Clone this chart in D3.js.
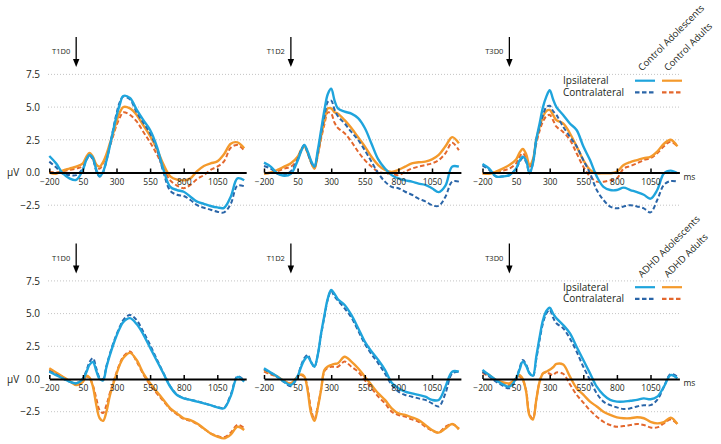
<!DOCTYPE html>
<html><head><meta charset="utf-8">
<script src="https://cdn.jsdelivr.net/npm/d3@7"></script>
<style>
body{margin:0;background:#fff}
svg{display:block}
text{font-family:"Open Sans",sans-serif;fill:#231f20}
</style>
</head><body>
<svg id="chart" width="721" height="444"></svg>
<script>
// ---------- DATA ----------
const times = [-200,-150,-100,-50,0,50,75,100,125,150,175,200,225,250,275,300,325,350,400,450,500,550,600,650,700,750,800,850,900,950,1000,1050,1100,1150,1200,1250];
const panelTitles = ["T1D0","T1D2","T3D0"];
const xTickValues = [-200,50,300,550,800,1050];
const yTickValues = [-2.5,0,2.5,5,7.5];
const gridValues = [-2.5,2.5,5,7.5];
const legendRows = ["Ipsilateral","Contralateral"];
const controlGroups = ["Control Adolescents","Control Adults"];
const adhdGroups = ["ADHD Adolescents","ADHD Adults"];

// Control Adolescents (blue) – one array per panel
const ctrlAdolIpsi = [
 [1.26,0.7,-0.06,-0.45,-0.57,0.2,0.95,1.34,1.1,0.2,-0.3,0.06,0.9,2.0,3.2,4.3,5.2,5.85,5.7,4.8,4.0,3.25,2.0,0.2,-1.1,-1.34,-1.47,-1.85,-2.23,-2.4,-2.56,-2.67,-2.7,-1.85,-0.45,-0.6],
 [0.75,0.45,-0.06,-0.25,-0.1,0.9,1.6,2.1,1.6,0.9,0.45,1.7,3.25,4.8,6.0,6.4,5.5,4.9,4.65,4.5,4.15,3.4,2.2,1.0,0.3,-0.2,-0.45,-0.6,-0.7,-0.85,-0.95,-1.2,-1.5,-1.0,0.45,0.45],
 [0.65,0.3,-0.3,-0.3,-0.2,0.3,0.9,1.2,0.9,-0.06,0.7,2.5,3.75,5.0,5.8,6.3,5.6,5.0,4.4,3.75,3.25,2.0,0.95,-0.3,-1.1,-1.34,-1.34,-1.16,-1.34,-1.5,-1.7,-2.0,-1.34,-0.06,0.14,-0.06]
];
const ctrlAdolContra = [
 [0.83,0.4,-0.1,-0.2,-0.2,0.3,0.95,1.3,1.0,0.1,-0.3,0.0,0.9,2.0,3.3,4.5,5.4,5.8,5.6,4.6,3.8,3.0,1.8,0.0,-1.4,-1.7,-1.8,-2.1,-2.5,-2.7,-2.85,-3.0,-3.05,-2.4,-1.0,-1.05],
 [0.5,0.3,-0.1,-0.2,0.1,1.0,1.7,2.1,1.5,0.8,0.45,1.5,3.0,4.3,5.4,5.5,4.8,4.3,3.75,3.1,2.5,1.7,0.83,-0.06,-0.7,-1.1,-1.2,-1.47,-1.7,-2.0,-2.2,-2.5,-2.55,-1.85,-0.7,-0.7],
 [0.55,0.2,-0.3,-0.3,-0.2,0.3,0.8,1.1,0.8,-0.06,0.7,2.5,3.5,4.4,5.0,5.1,4.7,4.4,3.5,2.74,2.0,0.95,-0.06,-1.34,-2.1,-2.6,-2.74,-2.6,-2.5,-2.6,-2.74,-3.05,-2.1,-0.95,-0.65,-0.7]
];
// Control Adults (orange)
const ctrlAdultIpsi = [
 [0.0,-0.1,0.15,0.3,0.45,0.7,1.2,1.5,1.2,0.6,0.45,0.8,1.4,2.2,3.0,3.9,4.6,5.0,4.9,4.4,3.6,2.8,1.8,0.6,-0.3,-0.55,-0.6,-0.45,0.1,0.5,0.7,0.85,1.4,2.2,2.3,1.85],
 [-0.1,0.0,0.2,0.45,0.7,1.2,1.7,2.0,1.5,0.8,0.3,1.4,2.8,4.0,4.9,4.9,4.6,4.5,4.0,3.4,2.7,2.0,1.2,0.57,0.2,0.05,0.2,0.45,0.7,0.78,0.83,1.0,1.34,2.0,2.7,2.23],
 [-0.06,-0.1,0.06,0.3,0.57,1.0,1.5,1.8,1.4,0.57,1.0,2.5,3.5,4.27,4.7,4.78,4.4,4.0,3.75,3.0,2.0,0.95,0.2,-0.06,-0.06,-0.06,0.06,0.57,0.8,0.95,1.1,1.2,1.6,2.2,2.5,2.0]
];
const ctrlAdultContra = [
 [0.05,0.0,0.1,0.2,0.3,0.5,1.0,1.3,1.0,0.4,0.3,0.7,1.3,2.0,2.8,3.6,4.2,4.6,4.4,3.9,3.1,2.3,1.4,0.3,-0.6,-1.0,-1.2,-0.95,-0.5,-0.2,0.2,0.45,0.85,1.9,2.1,1.7],
 [-0.05,0.0,0.1,0.3,0.45,1.0,1.6,2.0,1.5,0.8,0.3,1.3,2.6,3.7,4.6,4.5,3.8,3.4,3.0,2.36,1.6,0.95,0.45,0.06,-0.06,-0.1,-0.2,0.06,0.3,0.45,0.57,0.7,0.95,1.47,2.28,1.7],
 [-0.06,-0.05,0.05,0.15,0.3,0.7,1.2,1.47,1.1,0.45,0.9,2.2,3.2,3.9,4.3,4.4,4.0,3.5,3.1,2.5,1.47,0.45,-0.3,-0.7,-0.7,-0.6,-0.45,0.3,0.5,0.7,0.95,1.1,1.47,2.0,2.36,2.0]
];
// ADHD Adolescents (blue)
const adhdAdolIpsi = [
 [0.56,0.3,0.05,-0.2,-0.33,0.0,0.5,1.1,1.3,0.6,0.0,-0.1,0.9,1.8,2.6,3.3,3.9,4.35,4.65,4.2,3.4,2.4,1.4,0.4,-0.59,-1.22,-1.48,-1.6,-1.73,-1.86,-2.0,-2.17,-2.24,-1.3,0.15,-0.2],
 [0.82,0.5,0.18,-0.2,-0.46,0.2,0.9,1.45,1.7,1.3,0.94,1.84,3.5,4.9,6.17,6.8,6.5,6.1,5.66,4.9,3.9,2.86,2.1,1.45,0.7,-0.28,-0.7,-0.97,-1.1,-1.22,-1.35,-1.6,-1.6,-0.59,0.56,0.56],
 [0.7,0.3,-0.08,-0.4,-0.59,0.05,0.7,1.33,1.0,0.43,0.25,1.7,3.2,4.5,5.2,5.45,5.0,4.64,4.13,3.5,2.47,1.45,0.43,-0.59,-1.22,-1.6,-1.73,-1.73,-1.66,-1.6,-1.48,-1.55,-1.35,-0.59,0.3,0.05]
];
const adhdAdolContra = [
 [0.6,0.35,0.05,-0.2,-0.33,0.05,0.6,1.3,1.6,0.8,0.1,0.0,1.0,1.9,2.7,3.4,4.0,4.5,4.9,4.5,3.6,2.6,1.5,0.45,-0.55,-1.2,-1.45,-1.6,-1.7,-1.85,-2.0,-2.15,-2.2,-1.2,0.2,-0.1],
 [0.75,0.45,0.15,-0.25,-0.55,0.2,1.0,1.6,1.85,1.3,0.94,1.84,3.4,4.8,6.1,6.75,6.3,6.0,5.4,4.7,3.7,2.7,1.9,1.2,0.43,-0.46,-0.97,-1.22,-1.35,-1.48,-1.6,-1.86,-2.1,-1.1,0.43,0.56],
 [0.56,0.2,-0.2,-0.5,-0.71,0.0,0.8,1.45,1.1,0.45,0.2,1.5,3.0,4.26,5.0,5.3,4.7,4.26,3.88,3.1,2.1,0.94,-0.08,-1.1,-1.73,-2.0,-2.17,-2.3,-2.24,-2.1,-2.0,-2.0,-1.6,-0.59,0.38,0.18]
];
// ADHD Adults (orange)
const adhdAdultIpsi = [
 [0.82,0.5,0.18,-0.15,-0.46,-0.2,0.25,0.1,-0.6,-2.0,-3.0,-3.2,-2.5,-1.3,-0.4,0.4,1.1,1.6,2.0,1.45,0.43,-0.33,-0.97,-1.6,-2.24,-2.63,-3.0,-3.14,-3.4,-3.78,-4.16,-4.4,-4.54,-4.25,-3.65,-3.9],
 [0.7,0.45,0.18,-0.15,-0.33,0.18,0.35,0.2,-0.9,-2.6,-3.2,-2.2,-0.8,0.7,0.95,1.07,1.15,1.2,1.7,1.33,0.82,0.18,-0.46,-1.1,-1.6,-2.24,-2.63,-2.75,-2.93,-3.14,-3.52,-3.9,-4.1,-3.78,-3.44,-3.85],
 [0.56,0.3,-0.08,-0.25,-0.33,0.05,0.3,0.0,-1.0,-2.8,-3.1,-1.6,-0.2,0.43,0.56,0.7,0.9,1.15,1.1,0.2,-0.7,-1.2,-1.73,-2.1,-2.5,-2.75,-2.93,-3.0,-3.0,-2.93,-3.0,-3.27,-3.39,-3.3,-2.95,-3.44]
];
const adhdAdultContra = [
 [0.7,0.45,0.15,-0.15,-0.4,-0.2,0.2,0.05,-0.5,-1.5,-2.4,-2.6,-2.0,-1.1,-0.3,0.5,1.2,1.7,2.1,1.33,0.35,-0.45,-1.1,-1.7,-2.3,-2.7,-3.05,-3.2,-3.45,-3.8,-4.15,-4.35,-4.45,-4.1,-3.5,-3.75],
 [0.56,0.35,0.15,-0.15,-0.33,0.2,0.3,0.15,-0.7,-2.3,-3.1,-2.1,-0.8,0.6,0.85,0.94,0.94,0.94,1.33,0.94,0.56,-0.08,-0.7,-1.35,-1.86,-2.5,-2.75,-2.88,-3.09,-3.27,-3.65,-3.95,-4.1,-3.65,-3.44,-3.78],
 [0.45,0.2,-0.1,-0.3,-0.46,0.0,0.2,-0.1,-0.9,-2.7,-3.0,-1.6,-0.2,0.43,0.5,0.4,0.3,0.5,0.4,-0.4,-1.2,-1.8,-2.4,-2.88,-3.27,-3.52,-3.65,-3.6,-3.52,-3.44,-3.52,-3.7,-3.7,-3.39,-3.1,-3.44]
];

// ---------- LAYOUT / STYLE ----------
const svg = d3.select("#chart");
const panelLeft = [49.3, 264, 482.5];
const panelWidth = 196.9;
const pxPerUnit = 13.08;
const rowZero = [172.5, 379];
const gridX = [48, 680];

const styles = {
  adolIpsi:   {stroke:"#1fa4dc", width:2.4, dash:null},
  adolContra: {stroke:"#2a65a8", width:2.0, dash:"4.5,2.5"},
  adultIpsi:  {stroke:"#f49a2c", width:2.4, dash:null},
  adultContra:{stroke:"#e3672d", width:2.0, dash:"4.5,2.5"}
};

const rows = [
  {zero: rowZero[0], groups: controlGroups,
   series: [["adultContra", ctrlAdultContra],["adultIpsi", ctrlAdultIpsi],["adolContra", ctrlAdolContra],["adolIpsi", ctrlAdolIpsi]]},
  {zero: rowZero[1], groups: adhdGroups,
   series: [["adultContra", adhdAdultContra],["adultIpsi", adhdAdultIpsi],["adolContra", adhdAdolContra],["adolIpsi", adhdAdolIpsi]]}
];

rows.forEach((row, ri) => {
  const y = d3.scaleLinear().domain([-2.5, 7.5]).range([row.zero + 2.5*pxPerUnit, row.zero - 7.5*pxPerUnit]);
  const g = svg.append("g");

  // dotted grid lines across the row
  g.selectAll("line.grid").data(gridValues).enter().append("line")
    .attr("x1", gridX[0]).attr("x2", gridX[1])
    .attr("y1", d => y(d)).attr("y2", d => y(d))
    .attr("stroke", "#b5b5b5").attr("stroke-width", 0.8).attr("stroke-dasharray", "1,2");

  // y axis labels
  const yAxis = d3.axisLeft(y).tickValues(yTickValues).tickSize(0).tickPadding(0).tickFormat(d3.format(".1f"));
  const ya = g.append("g").attr("transform", "translate(40,0)").call(yAxis);
  ya.select(".domain").remove();
  ya.selectAll("text").style("font-family", "'Open Sans',sans-serif").style("font-size", "10px").attr("fill", "#231f20");

  g.append("text").attr("x", 7).attr("y", y(0)).attr("dy", "0.35em")
    .style("font-size", "10px").text("µV");

  panelLeft.forEach((L, pi) => {
    const x = d3.scaleLinear().domain([-200, 1265]).range([L, L + panelWidth]);
    const pg = g.append("g");

    // curves
    const line = d3.line().x((d, i) => x(times[i])).y(d => y(d)).curve(d3.curveCatmullRom.alpha(0.5));
    row.series.forEach(([key, arr]) => {
      const st = styles[key];
      pg.append("path").datum(arr[pi]).attr("d", line)
        .attr("fill", "none").attr("stroke", st.stroke).attr("stroke-width", st.width)
        .attr("stroke-dasharray", st.dash).attr("stroke-linejoin", "round");
    });

    // x axis at zero
    const xAxis = d3.axisBottom(x).tickValues(xTickValues).tickSizeInner(-4).tickSizeOuter(0).tickPadding(6).tickFormat(d3.format("d"));
    const xa = pg.append("g").attr("transform", `translate(0,${y(0)})`).call(xAxis);
    xa.select(".domain").attr("stroke", "#000").attr("stroke-width", 2);
    xa.selectAll(".tick line").attr("stroke", "#000").attr("stroke-width", 1.5);
    xa.selectAll("text").style("font-family", "'Open Sans',sans-serif").style("font-size", "8.5px").attr("fill", "#231f20");

    // stimulus arrow + title
    const ax = x(0);
    const top = row.zero - 135.5, headY = row.zero - 113.5, tip = row.zero - 105.5;
    pg.append("line").attr("x1", ax).attr("x2", ax).attr("y1", top).attr("y2", headY + 1)
      .attr("stroke", "#000").attr("stroke-width", 1.3);
    pg.append("path").attr("d", `M${ax-3.2},${headY}L${ax+3.2},${headY}L${ax},${tip}Z`).attr("fill", "#000");
    pg.append("text").attr("x", ax - 6).attr("y", row.zero - 118.5).attr("text-anchor", "end")
      .style("font-size", "7.5px").text(panelTitles[pi]);

    if (pi === 2) {
      pg.append("text").attr("x", x(1265) + 4).attr("y", y(0) + 7).style("font-size", "8.5px").text("ms");
    }
  });

  // legend
  const lg = svg.append("g");
  const ly = [row.zero - 91.8, row.zero - 80.2];
  legendRows.forEach((lab, k) => {
    lg.append("text").attr("x", 563).attr("y", ly[k] + 3.6).style("font-size", "10px").text(lab);
    const keys = k === 0 ? ["adolIpsi", "adultIpsi"] : ["adolContra", "adultContra"];
    [[635, 655], [662, 682]].forEach(([x1, x2], j) => {
      const st = styles[keys[j]];
      lg.append("line").attr("x1", x1).attr("x2", x2).attr("y1", ly[k]).attr("y2", ly[k])
        .attr("stroke", st.stroke).attr("stroke-width", 2.2).attr("stroke-dasharray", st.dash);
    });
  });
  row.groups.forEach((name, j) => {
    lg.append("text").attr("transform", `translate(${642 + j*26},${row.zero - 101}) rotate(-45)`)
      .style("font-size", "9.5px").text(name);
  });
});
</script>
</body></html>
